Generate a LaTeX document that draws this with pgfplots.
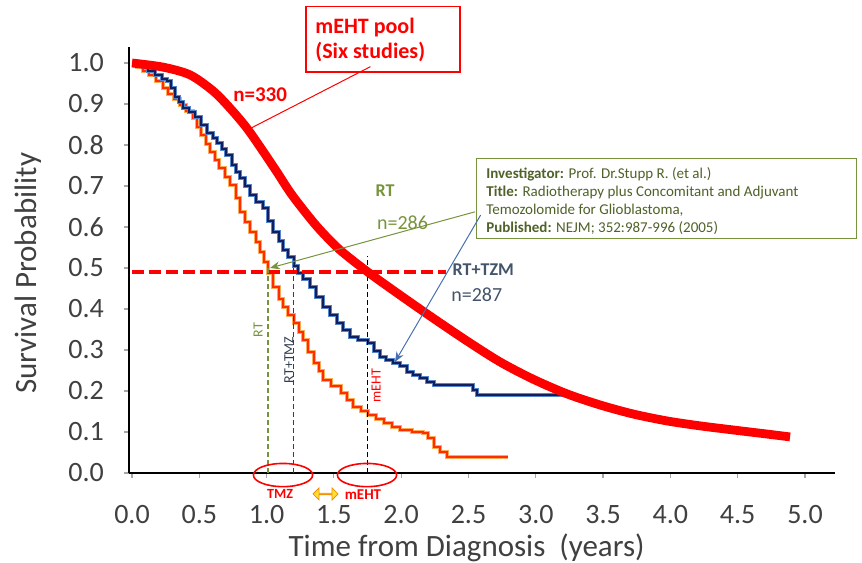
\documentclass[border=0pt]{standalone}
\usepackage{pgfplots}
\pgfplotsset{compat=1.18}
\usepackage{pgfplotstable}
\usepackage{fontspec}
\setmainfont{Carlito}
\usetikzlibrary{shapes.arrows, arrows.meta}

\definecolor{kmnavy}{HTML}{141E5A}
\definecolor{kmblue}{HTML}{5585CC}
\definecolor{kmred}{HTML}{FF2E00}
\definecolor{kmorange}{HTML}{FFAA55}
\definecolor{olivegreen}{HTML}{77933C}
\definecolor{olivedark}{HTML}{4F6228}
\definecolor{slate}{HTML}{44546A}
\definecolor{slatedark}{HTML}{333F50}
\definecolor{txtgray}{HTML}{404040}
\definecolor{arrowblue}{HTML}{4A6FB0}

% RT + TMZ (Stupp 2005)
\pgfplotstableread{
x y
0.00 1.000
0.04 0.995
0.08 0.990
0.12 0.980
0.17 0.970
0.22 0.962
0.26 0.955
0.29 0.940
0.32 0.918
0.35 0.905
0.38 0.890
0.42 0.880
0.47 0.868
0.51 0.850
0.56 0.830
0.60 0.818
0.63 0.806
0.67 0.790
0.70 0.775
0.74 0.752
0.77 0.735
0.80 0.720
0.84 0.700
0.88 0.678
0.92 0.662
0.97 0.646
1.01 0.615
1.05 0.588
1.09 0.565
1.12 0.545
1.16 0.528
1.20 0.505
1.23 0.488
1.27 0.472
1.32 0.454
1.37 0.430
1.42 0.405
1.47 0.386
1.52 0.366
1.57 0.348
1.62 0.332
1.68 0.325
1.75 0.317
1.80 0.298
1.84 0.283
1.89 0.275
1.94 0.268
1.99 0.260
2.04 0.246
2.09 0.238
2.14 0.232
2.19 0.222
2.24 0.215
2.50 0.215
2.53 0.203
2.56 0.190
3.20 0.190
}\rttmz

% RT alone
\pgfplotstableread{
x y
0.00 1.000
0.04 0.990
0.08 0.980
0.13 0.970
0.18 0.955
0.23 0.940
0.27 0.925
0.31 0.912
0.36 0.898
0.40 0.884
0.45 0.866
0.48 0.845
0.51 0.824
0.55 0.803
0.58 0.783
0.62 0.763
0.65 0.744
0.69 0.722
0.73 0.702
0.77 0.670
0.80 0.637
0.84 0.612
0.88 0.588
0.92 0.563
0.95 0.539
0.98 0.515
1.01 0.488
1.05 0.454
1.09 0.425
1.12 0.405
1.16 0.385
1.20 0.366
1.24 0.345
1.27 0.324
1.31 0.296
1.35 0.268
1.39 0.248
1.42 0.227
1.48 0.211
1.55 0.195
1.60 0.178
1.64 0.161
1.70 0.150
1.75 0.141
1.81 0.131
1.87 0.122
1.93 0.113
1.99 0.105
2.08 0.100
2.16 0.098
2.20 0.085
2.24 0.064
2.29 0.052
2.34 0.040
2.79 0.040
}\rtonly

% mEHT pool
\pgfplotstableread{
x y
0.000 1.000
0.230 0.990
0.431 0.971
0.602 0.932
0.728 0.890
0.854 0.841
0.973 0.785
1.077 0.734
1.174 0.685
1.285 0.637
1.397 0.593
1.545 0.544
1.753 0.490
1.991 0.434
2.236 0.378
2.489 0.322
2.734 0.271
2.979 0.229
3.232 0.193
3.477 0.166
3.722 0.144
3.975 0.127
4.220 0.115
4.465 0.105
4.718 0.095
4.889 0.088
}\mehtpool

\begin{document}
\begin{tikzpicture}
\begin{axis}[
    x=67.3pt, y=205pt,
    xmin=-0.02, xmax=5.223,
    ymin=0, ymax=1.04,
    axis x line*=bottom,
    axis y line*=left,
    x axis line style={line width=1.2pt},
    y axis line style={line width=1pt},
    clip=false,
    xtick={0,0.5,1,1.5,2,2.5,3,3.5,4,4.5,5},
    ytick={0,0.1,0.2,0.3,0.4,0.5,0.6,0.7,0.8,0.9,1},
    tick align=outside,
    major tick length=2.5pt,
    tick style={color=gray!70, line width=0.6pt},
    /pgf/number format/.cd, fixed, fixed zerofill, precision=1, assume math mode=true,
    /pgfplots/.cd,
    xticklabel style={font=\fontsize{14}{16}\selectfont, text=txtgray, anchor=center, yshift=-18.5pt},
    yticklabel style={font=\fontsize{14}{16}\selectfont, text=txtgray, anchor=east, inner sep=0pt, xshift=-10pt},
    xlabel={Time from Diagnosis\ \ (years)},
    ylabel={Survival Probability},
    xlabel style={font=\fontsize{15.5}{18}\selectfont, text=txtgray, at={(rel axis cs:0.478,-0.176)}, anchor=center},
    ylabel style={font=\fontsize{15.5}{18}\selectfont, text=txtgray, at={(rel axis cs:-0.1436,0.468)}, anchor=center, rotate=0},
]
% Kaplan-Meier curves with their soft halo
\addplot[kmorange, line width=2pt, const plot] table {\rtonly};
\addplot[kmred, line width=1pt, const plot] table {\rtonly};
\addplot[kmblue, line width=2pt, const plot] table {\rttmz};
\addplot[kmnavy, line width=1pt, const plot] table {\rttmz};

% median line and median markers
\addplot[red, line width=2pt, dash pattern=on 6pt off 2.5pt] coordinates {(0,0.49) (2.33,0.49)};
\addplot[olivegreen, line width=0.7pt, dash pattern=on 2.5pt off 1.5pt] coordinates {(1.01,0) (1.01,0.50)};
\addplot[slatedark, line width=0.7pt, dash pattern=on 2.5pt off 1.5pt] coordinates {(1.20,0) (1.20,0.52)};
\addplot[black, line width=0.7pt, dash pattern=on 2.5pt off 1.5pt] coordinates {(1.75,0) (1.75,0.53)};

% pooled mEHT curve
\addplot[red, line width=4.4pt, smooth, line cap=butt] table {\mehtpool};

% mEHT pool label
\draw[red, line width=0.6pt] (axis cs:1.293,1.137) rectangle (axis cs:2.437,0.978);
\node[red, font=\fontsize{11}{13}\selectfont\bfseries, anchor=base west, inner sep=0pt] at (axis cs:1.36,1.072) {mEHT pool};
\node[red, font=\fontsize{11}{13}\selectfont\bfseries, anchor=base west, inner sep=0pt] at (axis cs:1.36,1.010) {(Six studies)};
\draw[red, line width=0.5pt] (axis cs:1.771,0.991) -- (axis cs:0.877,0.84);
\node[red, font=\fontsize{10.5}{12}\selectfont\bfseries, anchor=base west, inner sep=0pt] at (axis cs:0.750,0.906) {n=330};

% reference study box
\draw[olivegreen, line width=0.5pt, fill=white] (axis cs:2.556,0.768) rectangle (axis cs:5.383,0.573);
\node[olivedark, font=\fontsize{7.5}{9}\selectfont, anchor=base west, inner sep=0pt] at (axis cs:2.630,0.718) {\textbf{Investigator:} Prof. Dr.Stupp R. (et al.)};
\node[olivedark, font=\fontsize{7.5}{9}\selectfont, anchor=base west, inner sep=0pt] at (axis cs:2.630,0.674) {\textbf{Title:} Radiotherapy plus Concomitant and Adjuvant};
\node[olivedark, font=\fontsize{7.5}{9}\selectfont, anchor=base west, inner sep=0pt] at (axis cs:2.630,0.630) {Temozolomide for Glioblastoma,};
\node[olivedark, font=\fontsize{7.5}{9}\selectfont, anchor=base west, inner sep=0pt] at (axis cs:2.630,0.586) {\textbf{Published:} NEJM; 352:987-996 (2005)};

% arrows from the box
\draw[olivegreen, line width=0.5pt, -{Stealth[length=5pt,width=4pt]}] (axis cs:2.548,0.637) -- (axis cs:1.025,0.50);
\draw[arrowblue, line width=0.5pt, -{Stealth[length=5pt,width=4pt]}] (axis cs:2.59,0.629) -- (axis cs:1.954,0.271);

\node[olivegreen, font=\fontsize{9}{10}\selectfont\bfseries] at (axis cs:1.88,0.688) {RT};
\node[olivegreen, font=\fontsize{10}{12}\selectfont] at (axis cs:2.01,0.610) {n=286};
\node[slate, font=\fontsize{9}{10}\selectfont\bfseries, anchor=west, inner sep=0pt] at (axis cs:2.38,0.497) {RT+TZM};
\node[slate, font=\fontsize{10}{12}\selectfont, anchor=west, inner sep=0pt] at (axis cs:2.37,0.434) {n=287};

% rotated labels on the median markers
\node[olivegreen, font=\fontsize{7}{8}\selectfont, rotate=90] at (axis cs:0.938,0.349) {RT};
\node[slatedark, font=\fontsize{7}{8}\selectfont, rotate=90] at (axis cs:1.166,0.276) {RT+TMZ};
\node[red, font=\fontsize{7}{8}\selectfont, rotate=90] at (axis cs:1.813,0.213) {mEHT};

% ellipses and gain arrow on the time axis
\draw[red, line width=0.8pt] (axis cs:1.122,-0.005) ellipse [x radius=14.8pt, y radius=5.8pt];
\draw[red, line width=0.8pt] (axis cs:1.746,-0.005) ellipse [x radius=14.8pt, y radius=5.8pt];
\node[red, font=\fontsize{7}{8}\selectfont\bfseries, inner sep=0pt] at (axis cs:1.10,-0.052) {TMZ};
\node[red, font=\fontsize{7.5}{9}\selectfont\bfseries, inner sep=0pt] at (axis cs:1.716,-0.052) {mEHT};
\node[double arrow, draw={rgb,255:red,242;green,144;blue,0}, fill={rgb,255:red,255;green,224;blue,51},
      line width=0.4pt, minimum height=12.5pt, minimum width=6pt, double arrow head extend=1.5pt,
      inner sep=0pt] at (axis cs:1.438,-0.051) {};

\coordinate (bbsw) at (axis cs:-0.9807,-0.2171);
\coordinate (bbne) at (axis cs:5.4235,1.1537);
\end{axis}
\pgfresetboundingbox
\useasboundingbox (bbsw) rectangle (bbne);
\end{tikzpicture}
\end{document}
